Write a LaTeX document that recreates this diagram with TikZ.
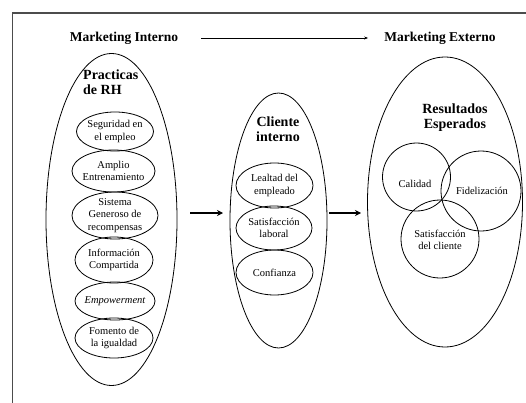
\documentclass[tikz,border=0pt]{standalone}
\usepackage{fontspec}
\setmainfont{Liberation Serif}
\usetikzlibrary{shapes.geometric,arrows.meta}
\begin{document}
\begin{tikzpicture}[x=1pt,y=-1pt,
  oval/.style={ellipse,draw,line width=0.8pt,inner sep=0pt},
  ring/.style={circle,draw,line width=0.8pt,inner sep=0pt},
  txt/.style={align=center,inner sep=0pt,font=\fontsize{10.5}{12.5}\selectfont},
  head/.style={inner sep=2pt,font=\bfseries\fontsize{13.5}{15}\selectfont},
  ttl/.style={inner sep=0pt,font=\bfseries\fontsize{14}{15}\selectfont},
  bigarr/.style={-{Stealth[length=6pt,width=6pt]},line width=1.6pt},
  thinarr/.style={-{Stealth[length=4pt,width=3pt]},line width=0.8pt}
]
\useasboundingbox (0,0) rectangle (526,403);
\fill[white] (0,0) rectangle (526,403);
\draw[line width=1.3pt,black!70] (12.5,403) -- (12.5,13) -- (526,13);

% titles
\node[head] (mi) at (124,38) {Marketing Interno};
\node[head] (me) at (440,38) {Marketing Externo};
\draw[thinarr,shorten <=21pt,shorten >=14pt] (mi) -- (me);

% left ellipse
\node[oval,minimum width=131,minimum height=332] (L) at (111.5,219.5) {};
\node[ttl,align=left,anchor=north west] (lt) at (83,70) {Practicas\\de RH};
\node[oval,minimum width=77,minimum height=39] (l1) at (115,131.5) {};
\node[txt] at (l1) {Seguridad en\\el empleo};
\node[oval,minimum width=83,minimum height=42] (l2) at (113.5,171) {};
\node[txt] at (l2) {Amplio\\Entrenamiento};
\node[oval,minimum width=86,minimum height=47] (l3) at (115,215.5) {};
\node[txt] at (l3) {Sistema\\Generoso de\\recompensas};
\node[oval,minimum width=78,minimum height=46] (l4) at (114,260) {};
\node[txt] at (l4) {Información\\Compartida};
\node[oval,minimum width=80,minimum height=38] (l5) at (115,301) {};
\node[txt] at (l5) {\itshape Empowerment};
\node[oval,minimum width=78,minimum height=40] (l6) at (114,338) {};
\node[txt] at (l6) {Fomento de\\la igualdad};

% middle ellipse
\node[oval,minimum width=97,minimum height=255] (M) at (278.5,220.5) {};
\node[ttl,align=center] (mt) at (278,129) {Cliente\\interno};
\node[oval,minimum width=77,minimum height=45] (m1) at (274.5,185.5) {};
\node[txt] at (m1) {Lealtad del\\empleado};
\node[oval,minimum width=76,minimum height=44] (m2) at (274,228) {};
\node[txt] at (m2) {Satisfacción\\laboral};
\node[oval,minimum width=77,minimum height=45] (m3) at (274.5,272.5) {};
\node[txt] at (m3) {Confianza};

% right ellipse
\node[oval,minimum width=155,minimum height=290] (R) at (445,202) {};
\node[ttl,align=center] (rt) at (455,118) {Resultados\\Esperados};
\node[ring,minimum size=68] (c1) at (416.5,177) {};
\node[txt] at (415,184) {Calidad};
\node[ring,minimum size=80] (c2) at (481,191) {};
\node[txt] at (482,191) {Fidelización};
\node[ring,minimum size=78] (c3) at (440,239) {};
\node[txt] at (440,240) {Satisfacción\\del cliente};

% connectors
\coordinate (a1) at (190,213);
\coordinate (a2) at (223,213);
\coordinate (b1) at (329,213);
\coordinate (b2) at (361,213);
\draw[bigarr] (a1) -- (a2);
\draw[bigarr] (b1) -- (b2);
\end{tikzpicture}
\end{document}
